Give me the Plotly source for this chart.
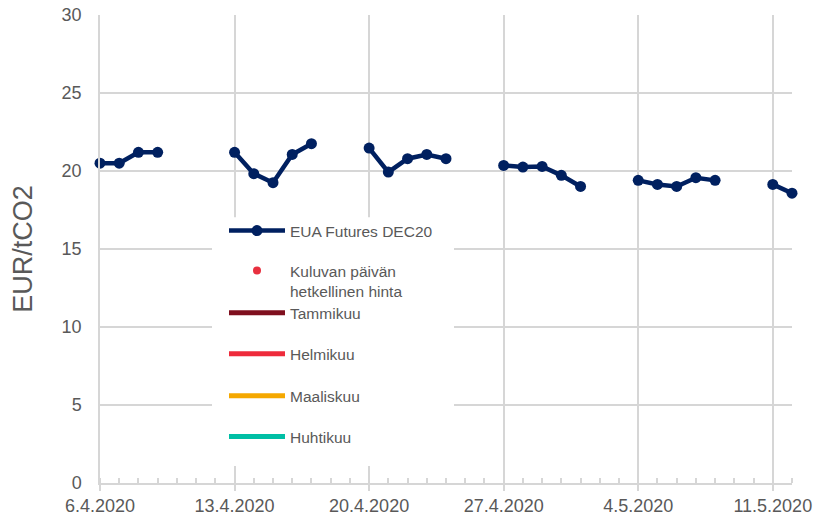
import plotly.graph_objects as go

# ---- data ----
dates = [
    "2020-04-06", "2020-04-07", "2020-04-08", "2020-04-09", "2020-04-10",
    "2020-04-13", "2020-04-14", "2020-04-15", "2020-04-16", "2020-04-17", "2020-04-18",
    "2020-04-20", "2020-04-21", "2020-04-22", "2020-04-23", "2020-04-24", "2020-04-25",
    "2020-04-27", "2020-04-28", "2020-04-29", "2020-04-30", "2020-05-01", "2020-05-02",
    "2020-05-04", "2020-05-05", "2020-05-06", "2020-05-07", "2020-05-08", "2020-05-09",
    "2020-05-11", "2020-05-12",
]
eua_dec20 = [
    20.50, 20.50, 21.20, 21.20, None,
    21.20, 19.83, 19.25, 21.06, 21.75, None,
    21.47, 19.93, 20.79, 21.06, 20.79, None,
    20.36, 20.25, 20.29, 19.72, 19.01, None,
    19.40, 19.14, 19.01, 19.57, 19.40, None,
    19.14, 18.58,
]
series_names = ["EUA Futures DEC20", "Kuluvan päivän<br>hetkellinen hinta",
                "Tammikuu", "Helmikuu", "Maaliskuu", "Huhtikuu"]
series_colors = ["#002060", "#E8303F", "#7F0F1E", "#EE2B3B", "#F5A800", "#00BFA5"]
y_ticks = [0, 5, 10, 15, 20, 25, 30]

GRID = "#D6D6D6"
TXT = "#595959"
FONT = "Liberation Sans, Arial, sans-serif"

# the page body has an 8px margin, so the figure is drawn 8px smaller and
# every pixel position below is given in screen pixels, minus that offset
OFF = 8
FIG_W, FIG_H = 825 - OFF, 520 - OFF

fig = go.Figure()

fig.add_trace(go.Scatter(
    x=dates, y=eua_dec20, name=series_names[0], mode="lines+markers",
    line=dict(color=series_colors[0], width=4.5),
    marker=dict(color=series_colors[0], size=11),
    connectgaps=False, legend="legend", cliponaxis=False,
))
fig.add_trace(go.Scatter(
    x=[None], y=[None], name=series_names[1], mode="markers",
    marker=dict(color=series_colors[1], size=8), legend="legend2",
))
for i in range(2, 6):
    fig.add_trace(go.Scatter(
        x=[None], y=[None], name=series_names[i], mode="lines",
        line=dict(color=series_colors[i], width=5), legend=f"legend{i+1}",
    ))

# plot area in screen pixels: x 100..792, y 14.5..483
L, R, T, B = 100 - OFF, 792 - OFF, 14.5 - OFF, 483 - OFF
W, H = R - L, B - T


def px(x):
    return (x - OFF - L) / W


def py(y):
    return (B - (y - OFF)) / H


legend_rows = [230.7, 270.7, 313, 354, 396, 437]
legend_common = dict(
    xanchor="left", yanchor="middle", bgcolor="rgba(0,0,0,0)",
    font=dict(family=FONT, size=15.5, color=TXT), itemwidth=56,
    valign="top",
)
layout_legends = {}
for i, yrow in enumerate(legend_rows):
    key = "legend" if i == 0 else f"legend{i+1}"
    yy = yrow + (10 if i == 1 else 0)
    layout_legends[key] = dict(x=px(224), y=py(yy), **legend_common)

fig.update_layout(**layout_legends)

# white legend background box (covers gridlines like the original)
fig.add_shape(type="rect", xref="paper", yref="paper",
              x0=px(212), x1=px(454), y0=py(466), y1=py(217),
              fillcolor="white", line=dict(width=0), layer="above")

fig.update_layout(
    width=FIG_W, height=FIG_H,
    margin=dict(l=L, r=FIG_W - R, t=T, b=FIG_H - B, autoexpand=False),
    paper_bgcolor="white", plot_bgcolor="white",
    font=dict(family=FONT, color=TXT),
    showlegend=True,
    xaxis=dict(
        type="date", range=["2020-04-06", "2020-05-12"], automargin=False,
        tick0="2020-04-06", dtick=7 * 86400000, tickformat="%-d.%-m.%Y",
        showgrid=True, gridcolor=GRID, gridwidth=1.5,
        showline=True, linecolor=GRID, linewidth=1.5,
        ticks="outside", ticklen=6, tickcolor=GRID, tickwidth=1.5,
        tickfont=dict(family=FONT, size=18, color=TXT),
        ticklabeloverflow="allow",
        minor=dict(dtick=86400000, ticks="inside", ticklen=5,
                   tickcolor=GRID, tickwidth=1.5, showgrid=False),
        zeroline=False,
    ),
    yaxis=dict(
        range=[0, 30], tickvals=y_ticks, automargin=False,
        showgrid=True, gridcolor=GRID, gridwidth=1.5,
        showline=True, linecolor=GRID, linewidth=1.5,
        ticks="", ticklabelstandoff=13, ticklabeloverflow="allow",
        tickfont=dict(family=FONT, size=18, color=TXT),
        title=dict(text="EUR/tCO2", font=dict(family=FONT, size=27, color=TXT), standoff=21),
        zeroline=False,
    ),
)

fig.write_html("out.html")
